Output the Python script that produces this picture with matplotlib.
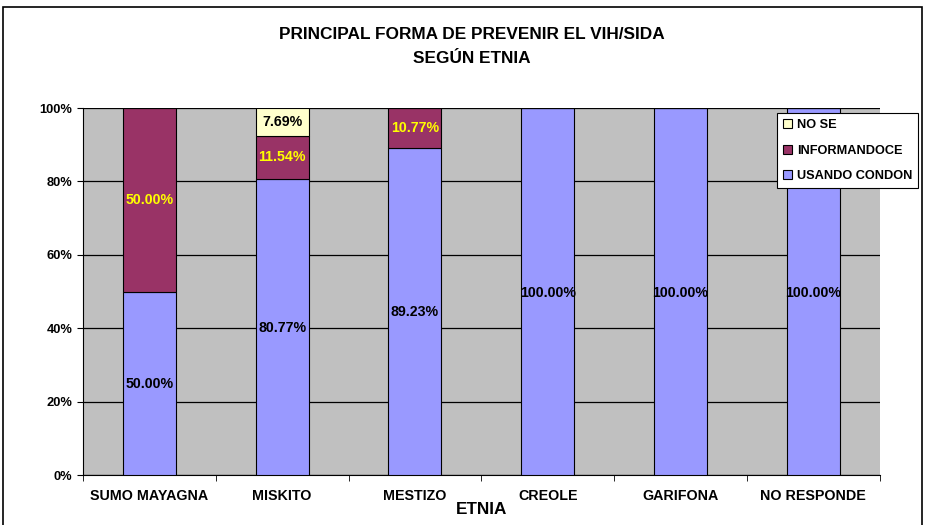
import matplotlib.pyplot as plt
import numpy as np

plt.rcParams['font.family'] = ['Liberation Sans', 'DejaVu Sans']

etnias = ["SUMO MAYAGNA", "MISKITO", "MESTIZO", "CREOLE", "GARIFONA", "NO RESPONDE"]
usando_condon = [50.00, 80.77, 89.23, 100.00, 100.00, 100.00]
informandoce = [50.00, 11.54, 10.77, 0, 0, 0]
no_se = [0, 7.69, 0, 0, 0, 0]

fig = plt.figure(figsize=(9.26, 5.25), dpi=100)
# borde exterior del grafico
fig.patches.append(plt.Rectangle((0.003, -0.01), 0.993, 0.997, transform=fig.transFigure,
                                 fill=False, edgecolor="black", linewidth=1.2))
ax = fig.add_axes([0.0896, 0.0952, 0.8604, 0.699])
ax.set_facecolor("#C0C0C0")

x = np.arange(len(etnias))
w = 0.4
usando_condon = np.array(usando_condon)
informandoce = np.array(informandoce)
no_se = np.array(no_se)

ax.bar(x, usando_condon, w, color="#9999FF", edgecolor="black", linewidth=0.8,
       label="USANDO CONDON", zorder=3)
ax.bar(x, informandoce, w, bottom=usando_condon, color="#993366", edgecolor="black",
       linewidth=0.8, label="INFORMANDOCE", zorder=3)
ax.bar(x, no_se, w, bottom=usando_condon + informandoce, color="#FFFFCC", edgecolor="black",
       linewidth=0.8, label="NO SE", zorder=3)

fs = 10.2
for i in range(len(etnias)):
    ax.text(x[i], usando_condon[i] / 2 - 0.3, f"{usando_condon[i]:.2f}%", ha="center", va="center",
            fontsize=fs, fontweight="bold", color="black", zorder=4)
    if informandoce[i] > 0:
        ax.text(x[i], usando_condon[i] + informandoce[i] / 2, f"{informandoce[i]:.2f}%",
                ha="center", va="center", fontsize=fs, fontweight="bold", color="#FFFF00", zorder=4)
    if no_se[i] > 0:
        ax.text(x[i], usando_condon[i] + informandoce[i] + no_se[i] / 2, f"{no_se[i]:.2f}%",
                ha="center", va="center", fontsize=fs, fontweight="bold", color="black", zorder=4)

ax.set_xlim(-0.5, len(etnias) - 0.5)
ax.set_ylim(0, 100)
ax.set_yticks([0, 20, 40, 60, 80, 100])
ax.set_yticklabels(["0%", "20%", "40%", "60%", "80%", "100%"], fontsize=9.3, fontweight="bold")
ax.yaxis.grid(True, color="black", linewidth=0.9, zorder=1)
ax.set_axisbelow(True)

ax.set_xticks(x)
ax.set_xticklabels(etnias, fontsize=10.3, fontweight="bold")
ax.tick_params(axis="x", length=0, pad=10)
ax.set_xticks(np.arange(-0.5, len(etnias)), minor=True)
ax.tick_params(axis="x", which="minor", length=4, direction="out", color="black")
ax.tick_params(axis="y", length=4, direction="out")

ax.spines["top"].set_visible(False)
ax.spines["right"].set_visible(False)
ax.spines["left"].set_color("black")
ax.spines["bottom"].set_color("black")

ax.set_xlabel("ETNIA", fontsize=12.3, fontweight="bold", labelpad=-1)

fig.text(0.51, 0.935, "PRINCIPAL FORMA DE PREVENIR EL VIH/SIDA", ha="center", va="center",
         fontsize=12.4, fontweight="bold")
fig.text(0.51, 0.889, "SEGÚN ETNIA", ha="center", va="center", fontsize=12.4, fontweight="bold")

handles, labels = ax.get_legend_handles_labels()
leg = fig.legend(handles[::-1], labels[::-1], loc="upper left", bbox_to_anchor=(0.839, 0.785),
                 prop={"weight": "bold", "size": 9.2}, frameon=True, fancybox=False,
                 framealpha=1, edgecolor="black", handlelength=0.7, handleheight=0.7,
                 handletextpad=0.35, labelspacing=1.05, borderpad=0.5, borderaxespad=0)
leg.get_frame().set_linewidth(0.8)

fig.savefig("out.png", dpi=100)
